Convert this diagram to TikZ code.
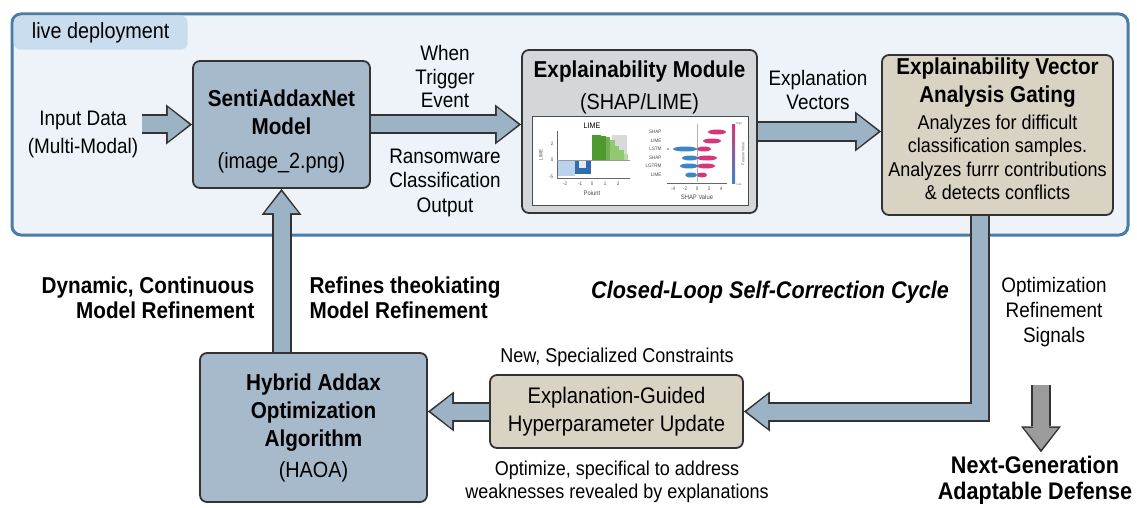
\documentclass[tikz,border=0pt]{standalone}
\usepackage{fontspec}
\setmainfont{Liberation Sans}[FakeStretch=0.9]
\usepackage{xcolor}
\usetikzlibrary{arrows.meta, positioning}

\definecolor{livefill}{HTML}{EDF3F9}
\definecolor{liveline}{HTML}{4A7DA6}
\definecolor{tabfill}{HTML}{C9DDEF}
\definecolor{steelbox}{HTML}{A7BACB}
\definecolor{greybox}{HTML}{D4D7DA}
\definecolor{sandbox}{HTML}{D9D3C4}
\definecolor{arrowfill}{HTML}{9CB2C5}
\definecolor{greyarrow}{HTML}{9B9B9B}
\definecolor{edge}{HTML}{333333}
\definecolor{limegreen}{HTML}{4F9A30}
\definecolor{palegreen}{HTML}{93C873}
\definecolor{limeblue}{HTML}{2F6EAB}
\definecolor{paleblue}{HTML}{BBD3EA}
\definecolor{shapred}{HTML}{D2387A}
\definecolor{shapblue}{HTML}{3C86C8}

\newcommand{\bigb}{\fontsize{23}{28}\selectfont\bfseries}
\newcommand{\bign}{\fontsize{22}{26}\selectfont\mdseries}
\newcommand{\smalln}{\fontsize{20}{23.5}\selectfont\mdseries}
\newcommand{\fatarrow}[2][arrowfill]{%
  \draw[fatout] #2;
  \draw[fatin, draw=#1] #2;}

\begin{document}
\begin{tikzpicture}[x=1pt, y=-1pt,
        livebox/.style={
            rectangle, draw=liveline, line width=3pt, fill=livefill,
            rounded corners=9pt, inner sep=0pt,
            minimum width=1116pt, minimum height=221pt
        },
        box/.style={
            rectangle, rounded corners=7pt, draw=edge, line width=1.8pt,
            align=center, inner sep=2pt
        },
        steel/.style={box, fill=steelbox},
        grey/.style={box, fill=greybox},
        sand/.style={box, fill=sandbox},
        side/.style={font=\fontsize{21}{23.5}\selectfont, align=center},
        boldside/.style={font=\fontsize{23}{25}\selectfont\bfseries},
        tiny/.style={font=\fontsize{5}{6}\selectfont, inner sep=0.5pt, text=black!70},
        fatout/.style={line width=20pt, draw=edge, line join=miter,
            -{Triangle[width=40pt, length=26pt, line width=0pt]}},
        fatin/.style={line width=16pt, line join=miter, shorten >=2.8pt,
            -{Triangle[width=34pt, length=21.5pt, line width=0pt]}}
    ]
    \useasboundingbox (0,0) rectangle (1137,508);

    % live deployment frame
    \node[livebox] (live) at (570,124.5) {};
    \node[fill=tabfill, rounded corners=7pt, anchor=north west, inner sep=0pt,
          minimum width=174pt, minimum height=34pt,
          font=\fontsize{22}{26}\selectfont] (tab) at (13.5,15.5) {live deployment};

    % boxes
    \node[steel, minimum width=177pt, minimum height=127pt, font=\bigb] (senti) at (281.5,124.5)
        {\rule{0pt}{31pt}SentiAddaxNet\\Model\\[6pt]\bign (image\_2.png)};
    \node[grey, minimum width=235pt, minimum height=163pt] (expl) at (639.5,131.5) {};
    \node[font=\bigb] (expltitle) at (639.5,72) {Explainability Module};
    \node[font=\bign] (explsub) at (639.5,104) {(SHAP/LIME)};
    \node[sand, minimum width=231pt, minimum height=160pt, font=\bigb] (gate) at (997.5,135)
        {Explainability Vector\\Analysis Gating\\[-1pt]
         \smalln Analyzes for difficult\\[-4.5pt]\smalln classification samples.\\[-4.5pt]
         \smalln Analyzes furrr contributions\\[-4.5pt]\smalln \& detects conflicts\rule[-13pt]{0pt}{1pt}};
    \node[sand, minimum width=253pt, minimum height=73pt,
          font=\fontsize{22.5}{28}\selectfont] (hyper) at (616.5,411.5)
        {Explanation-Guided\\Hyperparameter Update};
    \node[steel, minimum width=227pt, minimum height=149pt, font=\bigb] (haoa) at (313.5,427.5)
        {Hybrid Addax\\Optimization\\Algorithm\\[3pt]\bign (HAOA)};

    % labels
    \node[side, font=\fontsize{21}{28}\selectfont] (inp) at (83,134) {Input Data\\(Multi-Modal)};
    \node[side] (trig) at (445,76.5) {When\\Trigger\\Event};
    \node[side, font=\fontsize{21}{24.5}\selectfont] (ransom) at (445,182.5) {Ransomware\\Classification\\Output};
    \node[side] (vec) at (818,90) {Explanation\\Vectors};
    \node[side, font=\fontsize{21}{25}\selectfont] (sig) at (1054,312) {Optimization\\Refinement\\Signals};
    \node[boldside, align=right, anchor=east] (dyn) at (258,297.5) {Dynamic, Continuous\\Model Refinement};
    \node[boldside, align=left, anchor=west] (refi) at (306,297.5) {Refines theokiating\\Model Refinement};
    \node[font=\fontsize{24}{28}\selectfont\bfseries\itshape] (cycle) at (770,292) {Closed-Loop Self-Correction Cycle};
    \node[font=\fontsize{20}{23}\selectfont] (cons) at (617,357) {New, Specialized Constraints};
    \node[font=\fontsize{20}{23}\selectfont, align=center] (opt) at (617,481.5)
        {Optimize, specifical to address\\weaknesses revealed by explanations};
    \node[font=\fontsize{24}{26}\selectfont\bfseries, align=center] (nextgen) at (1035,480)
        {Next-Generation\\Adaptable Defense};

    % SHAP/LIME figure
    \node[rectangle, draw=black!70, line width=1pt, fill=white,
          minimum width=216pt, minimum height=88pt] (plot) at (640,161) {};
    \fill[black!15] (612,135) rectangle (627,160);
    \foreach \xa/\yt/\c in {592/135/limegreen, 596.5/135/limegreen, 601/136/limegreen,
                            605.5/137/limegreen!80!white, 610/140/palegreen,
                            614.5/146/palegreen, 619/150/palegreen, 623.5/154/palegreen!70!white}
        \fill[\c] (\xa,\yt) rectangle ++(4.5,160-\yt);
    \fill[paleblue] (558,160) rectangle (575,176);
    \fill[limeblue] (575,160) rectangle (591,174);
    \fill[paleblue!50!white] (579,160) rectangle (586,168);
    \draw[black!60, line width=0.5pt] (557,131) -- (557,178) -- (630,178);
    \draw[black!40, line width=0.4pt] (557,160) -- (630,160);
    \node[font=\fontsize{8}{9}\selectfont] (limet) at (592,126) {LIME};
    \node[tiny, rotate=90] (limey) at (541,155) {LIME};
    \node[tiny] (ly1) at (552,144) {2};
    \node[tiny] (ly2) at (552,160) {0};
    \node[tiny] (ly3) at (551,177) {-5};
    \foreach \xa/\t [count=\k] in {565/-2, 580/-1, 592/0, 605/1, 618/2}
        \node[tiny] (lx\k) at (\xa,184) {\t};
    \node[font=\fontsize{6.5}{7}\selectfont, text=black!70] (lxl) at (592,193) {Poiunt};
    \foreach \yy/\t [count=\k] in {132/SHAP, 141/LIME, 149/LSTM, 158/SHAP, 166/LGTRM, 175/LIME}
        \node[tiny, anchor=east] (sl\k) at (662,\yy) {\t};
    \draw[black!30, line width=0.5pt] (697,124) -- (697,182);
    \fill[shapred] (717,132) ellipse [x radius=9pt, y radius=2.5pt];
    \fill[shapred] (712,141) ellipse [x radius=9pt, y radius=2.5pt];
    \fill[shapblue] (685,149) ellipse [x radius=12pt, y radius=2.5pt];
    \fill[shapred] (704,149) ellipse [x radius=7pt, y radius=2.5pt];
    \fill[shapblue] (668,149) circle [radius=1pt];
    \fill[shapblue] (690,158) ellipse [x radius=8pt, y radius=2.5pt];
    \fill[shapred] (707,158) ellipse [x radius=10pt, y radius=2.5pt];
    \fill[shapblue] (689,166) ellipse [x radius=9pt, y radius=2.5pt];
    \fill[shapred] (706,166) ellipse [x radius=9pt, y radius=2.5pt];
    \fill[shapblue] (691,175) ellipse [x radius=6pt, y radius=2.5pt];
    \fill[shapred] (702,175) ellipse [x radius=5pt, y radius=2.5pt];
    \draw[black!60, line width=0.5pt] (667,183) -- (727,183);
    \foreach \xa/\t [count=\k] in {673/-4, 685/-2, 697/0, 709/2, 721/4}
        \node[tiny] (sx\k) at (\xa,189) {\t};
    \node[font=\fontsize{6.5}{7}\selectfont, text=black!70] (sxl) at (697,197) {SHAP Value};
    \shade[top color=shapred, bottom color=shapblue] (732,125) rectangle (735,183);
    \node[font=\fontsize{3}{3}\selectfont, inner sep=0pt, text=black!60] (hi) at (739,124) {High};
    \node[font=\fontsize{3}{3}\selectfont, inner sep=0pt, text=black!60] (lo) at (739,184) {Low};
    \node[font=\fontsize{4}{4}\selectfont, inner sep=0pt, text=black!60, rotate=90] (fv) at (743,154) {Feature Value};

    % block arrows
    \fatarrow{(inp.east |- senti.west) -- (senti.west)}
    \fatarrow{(senti.east) -- (senti.east -| expl.west)}
    \fatarrow{(expl.east) -- (expl.east -| gate.west)}
    \fatarrow{([xshift=-17.5pt]gate.south) |- (hyper.east)}
    \fatarrow{(hyper.west) -- (hyper.west -| haoa.east)}
    \fatarrow{(haoa.north -| senti.south) -- (senti.south)}
    \coordinate (sigbot) at (1041,385);
    \fatarrow[greyarrow]{(sigbot) -- (sigbot |- nextgen.north)}
\end{tikzpicture}
\end{document}
